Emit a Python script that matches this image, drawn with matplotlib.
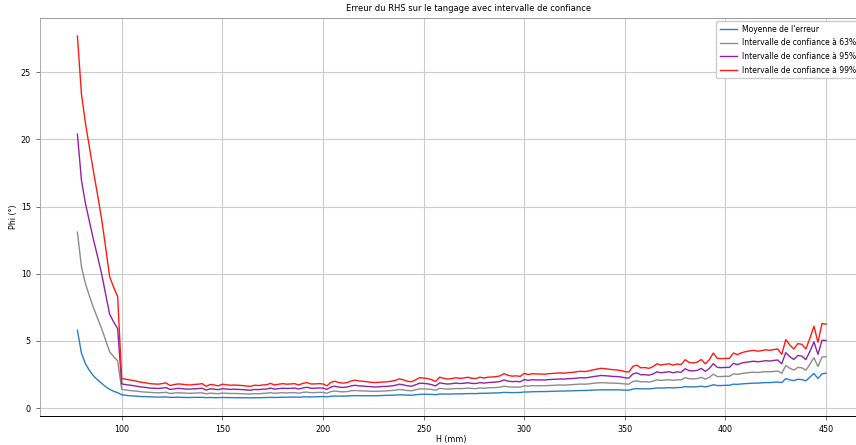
import matplotlib
matplotlib.use("Agg")
import matplotlib.pyplot as plt

# Hauteurs H (mm)
h_mm = list(range(78, 451, 2))

moyenne = [5.8, 4.1, 3.3, 2.8, 2.4, 2.1, 1.85, 1.6, 1.4, 1.25, 1.15, 1.0,
           0.95, 0.92, 0.9, 0.88, 0.86, 0.85, 0.84, 0.83, 0.82, 0.82, 0.83, 0.8,
           0.8, 0.81, 0.8, 0.79, 0.79, 0.8, 0.8, 0.8, 0.78, 0.79, 0.78, 0.78,
           0.79, 0.78, 0.78, 0.78, 0.77, 0.77, 0.77, 0.76, 0.77, 0.77, 0.78, 0.79,
           0.8, 0.79, 0.8, 0.81, 0.81, 0.82, 0.82, 0.81, 0.83, 0.84, 0.83, 0.84,
           0.85, 0.86, 0.84, 0.88, 0.9, 0.89, 0.89, 0.9, 0.92, 0.93, 0.92, 0.92,
           0.92, 0.92, 0.92, 0.93, 0.94, 0.95, 0.96, 0.97, 0.99, 0.98, 0.97, 0.96,
           0.99, 1.02, 1.03, 1.03, 1.02, 1.0, 1.05, 1.05, 1.04, 1.05, 1.06, 1.06,
           1.07, 1.08, 1.08, 1.08, 1.1, 1.1, 1.11, 1.12, 1.13, 1.14, 1.17, 1.16,
           1.15, 1.16, 1.16, 1.2, 1.2, 1.22, 1.22, 1.23, 1.23, 1.24, 1.25, 1.26,
           1.27, 1.27, 1.28, 1.29, 1.3, 1.31, 1.31, 1.32, 1.34, 1.35, 1.36, 1.36,
           1.36, 1.36, 1.36, 1.35, 1.34, 1.33, 1.42, 1.45, 1.43, 1.44, 1.43, 1.46,
           1.5, 1.49, 1.5, 1.52, 1.5, 1.53, 1.53, 1.6, 1.58, 1.58, 1.59, 1.63,
           1.58, 1.64, 1.74, 1.68, 1.68, 1.7, 1.7, 1.78, 1.77, 1.8, 1.82, 1.84,
           1.86, 1.86, 1.88, 1.9, 1.9, 1.92, 1.94, 1.9, 2.2, 2.1, 2.05, 2.15,
           2.12, 2.03, 2.3, 2.58, 2.2, 2.55, 2.6]

ic_63 = [13.1, 10.53, 9.27, 8.33, 7.47, 6.7, 5.93, 5.07, 4.2, 3.83, 3.53, 1.4,
         1.35, 1.31, 1.28, 1.25, 1.21, 1.19, 1.17, 1.15, 1.14, 1.15, 1.18, 1.09,
         1.12, 1.14, 1.13, 1.11, 1.1, 1.12, 1.13, 1.14, 1.06, 1.11, 1.09, 1.07,
         1.12, 1.1, 1.09, 1.09, 1.08, 1.07, 1.06, 1.05, 1.08, 1.07, 1.09, 1.11,
         1.15, 1.1, 1.13, 1.15, 1.13, 1.15, 1.15, 1.11, 1.17, 1.19, 1.15, 1.16,
         1.17, 1.17, 1.11, 1.23, 1.27, 1.23, 1.21, 1.23, 1.29, 1.31, 1.29, 1.28,
         1.27, 1.25, 1.25, 1.26, 1.27, 1.29, 1.31, 1.33, 1.39, 1.35, 1.31, 1.29,
         1.36, 1.43, 1.43, 1.42, 1.39, 1.33, 1.47, 1.44, 1.41, 1.43, 1.46, 1.45,
         1.46, 1.49, 1.46, 1.45, 1.5, 1.48, 1.51, 1.52, 1.53, 1.56, 1.63, 1.59,
         1.56, 1.57, 1.56, 1.66, 1.63, 1.67, 1.66, 1.67, 1.66, 1.68, 1.69, 1.71,
         1.72, 1.71, 1.73, 1.75, 1.77, 1.79, 1.78, 1.8, 1.84, 1.87, 1.89, 1.89,
         1.87, 1.86, 1.85, 1.83, 1.8, 1.78, 1.98, 2.03, 1.95, 1.97, 1.94, 2.0,
         2.1, 2.06, 2.09, 2.11, 2.07, 2.11, 2.1, 2.27, 2.19, 2.17, 2.2, 2.29,
         2.15, 2.29, 2.53, 2.35, 2.35, 2.37, 2.37, 2.55, 2.51, 2.57, 2.61, 2.65,
         2.67, 2.65, 2.68, 2.71, 2.7, 2.73, 2.76, 2.6, 3.17, 2.97, 2.83, 3.03,
         3.0, 2.82, 3.27, 3.75, 3.1, 3.8, 3.82]

ic_95 = [20.4, 16.97, 15.23, 13.87, 12.53, 11.3, 10.02, 8.53, 7.0, 6.42, 5.92, 1.8,
         1.75, 1.71, 1.67, 1.61, 1.57, 1.54, 1.49, 1.48, 1.46, 1.49, 1.53, 1.39,
         1.43, 1.47, 1.45, 1.42, 1.41, 1.44, 1.45, 1.48, 1.34, 1.44, 1.41, 1.37,
         1.45, 1.42, 1.39, 1.41, 1.39, 1.38, 1.35, 1.33, 1.39, 1.38, 1.41, 1.42,
         1.49, 1.41, 1.45, 1.48, 1.46, 1.47, 1.49, 1.42, 1.5, 1.55, 1.48, 1.48,
         1.5, 1.49, 1.39, 1.57, 1.63, 1.56, 1.54, 1.57, 1.65, 1.7, 1.65, 1.64,
         1.61, 1.59, 1.57, 1.59, 1.61, 1.62, 1.65, 1.7, 1.78, 1.73, 1.66, 1.63,
         1.73, 1.85, 1.84, 1.81, 1.75, 1.65, 1.88, 1.83, 1.79, 1.82, 1.86, 1.83,
         1.85, 1.89, 1.84, 1.83, 1.9, 1.86, 1.9, 1.92, 1.94, 1.98, 2.1, 2.01,
         1.97, 1.99, 1.96, 2.12, 2.07, 2.11, 2.1, 2.1, 2.09, 2.12, 2.14, 2.15,
         2.17, 2.16, 2.19, 2.2, 2.23, 2.26, 2.25, 2.28, 2.34, 2.38, 2.43, 2.41,
         2.39, 2.36, 2.35, 2.32, 2.26, 2.23, 2.54, 2.62, 2.48, 2.49, 2.45, 2.54,
         2.7, 2.63, 2.67, 2.71, 2.63, 2.7, 2.67, 2.93, 2.79, 2.77, 2.81, 2.96,
         2.73, 2.95, 3.31, 3.03, 3.01, 3.03, 3.03, 3.33, 3.24, 3.35, 3.41, 3.45,
         3.49, 3.45, 3.48, 3.53, 3.5, 3.55, 3.58, 3.3, 4.13, 3.83, 3.62, 3.92,
         3.87, 3.61, 4.23, 4.93, 4.0, 5.05, 5.03]

ic_99 = [27.7, 23.4, 21.2, 19.4, 17.6, 15.9, 14.1, 12.0, 9.8, 9.0, 8.3, 2.2,
         2.15, 2.1, 2.05, 1.98, 1.92, 1.88, 1.82, 1.8, 1.78, 1.82, 1.88, 1.68,
         1.75, 1.8, 1.78, 1.74, 1.72, 1.76, 1.78, 1.82, 1.62, 1.76, 1.72, 1.66,
         1.78, 1.74, 1.7, 1.72, 1.7, 1.68, 1.64, 1.62, 1.7, 1.68, 1.72, 1.74,
         1.84, 1.72, 1.78, 1.82, 1.78, 1.8, 1.82, 1.72, 1.84, 1.9, 1.8, 1.8,
         1.82, 1.8, 1.66, 1.92, 2.0, 1.9, 1.86, 1.9, 2.02, 2.08, 2.02, 2.0,
         1.96, 1.92, 1.9, 1.92, 1.94, 1.96, 2.0, 2.06, 2.18, 2.1, 2.0, 1.96,
         2.1, 2.26, 2.24, 2.2, 2.12, 1.98, 2.3, 2.22, 2.16, 2.2, 2.26, 2.22,
         2.24, 2.3, 2.22, 2.2, 2.3, 2.24, 2.3, 2.32, 2.34, 2.4, 2.56, 2.44,
         2.38, 2.4, 2.36, 2.58, 2.5, 2.56, 2.54, 2.54, 2.52, 2.56, 2.58, 2.6,
         2.62, 2.6, 2.64, 2.66, 2.7, 2.74, 2.72, 2.76, 2.84, 2.9, 2.96, 2.94,
         2.9, 2.86, 2.84, 2.8, 2.72, 2.68, 3.1, 3.2, 3.0, 3.02, 2.96, 3.08,
         3.3, 3.2, 3.26, 3.3, 3.2, 3.28, 3.24, 3.6, 3.4, 3.36, 3.42, 3.62,
         3.3, 3.6, 4.1, 3.7, 3.68, 3.7, 3.7, 4.1, 3.98, 4.12, 4.2, 4.26,
         4.3, 4.24, 4.28, 4.34, 4.3, 4.36, 4.4, 4.0, 5.1, 4.7, 4.4, 4.8,
         4.75, 4.4, 5.2, 6.1, 4.9, 6.3, 6.25]

series_labels = ["Moyenne de l'erreur",
                 "Intervalle de confiance à 63%",
                 "Intervalle de confiance à 95%",
                 "Intervalle de confiance à 99%"]
series_colors = ["#2a7fc0", "#8c8c8c", "#8e24a0", "#ff1a1a"]

plt.rcParams['font.family'] = ['DejaVu Sans']
fig = plt.figure(figsize=(8.56, 4.45), dpi=100)
ax = fig.add_axes([0.0467, 0.0652, 0.962, 0.8944])

for vals, lab, col in zip([moyenne, ic_63, ic_95, ic_99], series_labels, series_colors):
    ax.plot(h_mm, vals, color=col, lw=1.0, label=lab)

ax.grid(True, color='#cccccc', lw=0.8)
ax.set_axisbelow(True)
ax.tick_params(labelsize=5.8, length=3, width=0.6, color='#555555')
ax.set_xlabel("H (mm)", fontsize=5.8, labelpad=1)
ax.set_ylabel("Phi (°)", fontsize=5.8, labelpad=2)
ax.set_title("Erreur du RHS sur le tangage avec intervalle de confiance",
             fontsize=6.0, x=0.52, pad=5)
for name, sp in ax.spines.items():
    sp.set_linewidth(0.7)
ax.spines['left'].set_color('#aaaaaa')
ax.spines['top'].set_color('#999999')
ax.legend(loc='upper right', fontsize=5.5, framealpha=1.0, fancybox=True,
          handlelength=2.2, handletextpad=0.7, borderpad=0.5, labelspacing=0.6,
          borderaxespad=0.4)

fig.savefig("out.png", dpi=100)
